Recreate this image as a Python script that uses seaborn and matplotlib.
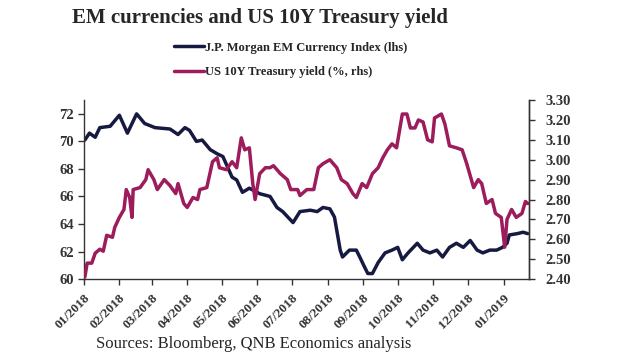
import matplotlib
matplotlib.use("Agg")
import matplotlib.pyplot as plt
import pandas as pd
import seaborn as sns

# J.P. Morgan EM Currency Index (lhs)
em_dates = ["2018-01-02", "2018-01-06", "2018-01-11", "2018-01-15", "2018-01-24", "2018-02-01",
            "2018-02-08", "2018-02-16", "2018-02-23", "2018-03-04", "2018-03-17", "2018-03-24",
            "2018-03-30", "2018-04-03", "2018-04-09", "2018-04-14", "2018-04-21", "2018-04-27",
            "2018-05-02", "2018-05-10", "2018-05-14", "2018-05-19", "2018-05-25", "2018-06-03",
            "2018-06-12", "2018-06-18", "2018-06-23", "2018-07-02", "2018-07-08", "2018-07-17",
            "2018-07-23", "2018-07-28", "2018-08-03", "2018-08-07", "2018-08-12", "2018-08-14",
            "2018-08-20", "2018-08-26", "2018-08-29", "2018-09-02", "2018-09-05", "2018-09-09",
            "2018-09-14", "2018-09-20", "2018-09-26", "2018-10-01", "2018-10-05", "2018-10-10",
            "2018-10-18", "2018-10-23", "2018-10-29", "2018-11-04", "2018-11-09", "2018-11-15",
            "2018-11-21", "2018-11-27", "2018-12-03", "2018-12-09", "2018-12-14", "2018-12-20",
            "2018-12-26", "2018-12-31", "2019-01-04", "2019-01-06", "2019-01-13", "2019-01-18",
            "2019-01-22"]
em_values = [70.1, 70.6, 70.3, 71.0, 71.1, 71.9,
             70.6, 72.0, 71.3, 71.0, 70.9, 70.5,
             71.0, 70.8, 70.0, 70.1, 69.4, 69.1,
             68.9, 67.4, 67.2, 66.3, 66.6, 66.2,
             66.0, 65.2, 64.9, 64.1, 64.9, 65.0,
             64.9, 65.2, 65.1, 64.5, 62.1, 61.6,
             62.1, 62.1, 61.6, 60.9, 60.4, 60.4,
             61.2, 61.9, 62.1, 62.3, 61.4, 61.9,
             62.6, 62.1, 61.9, 62.1, 61.6, 62.3,
             62.6, 62.3, 62.8, 62.1, 61.9, 62.1,
             62.1, 62.3, 62.6, 63.2, 63.3, 63.4,
             63.3]

# US 10Y Treasury yield (%, rhs)
ust_dates = ["2018-01-02", "2018-01-04", "2018-01-08", "2018-01-11", "2018-01-15", "2018-01-18",
             "2018-01-21", "2018-01-26", "2018-01-28", "2018-02-01", "2018-02-05", "2018-02-07",
             "2018-02-10", "2018-02-12", "2018-02-13", "2018-02-19", "2018-02-24", "2018-02-26",
             "2018-03-03", "2018-03-06", "2018-03-12", "2018-03-17", "2018-03-22", "2018-03-24",
             "2018-03-29", "2018-04-01", "2018-04-06", "2018-04-10", "2018-04-12", "2018-04-18",
             "2018-04-23", "2018-04-27", "2018-04-29", "2018-05-05", "2018-05-10", "2018-05-14",
             "2018-05-18", "2018-05-21", "2018-05-25", "2018-05-28", "2018-05-30", "2018-06-03",
             "2018-06-08", "2018-06-12", "2018-06-15", "2018-06-21", "2018-06-27", "2018-06-30",
             "2018-07-06", "2018-07-08", "2018-07-14", "2018-07-20", "2018-07-24", "2018-07-28",
             "2018-08-03", "2018-08-09", "2018-08-13", "2018-08-18", "2018-08-23", "2018-08-26",
             "2018-08-31", "2018-09-04", "2018-09-09", "2018-09-14", "2018-09-18", "2018-09-22",
             "2018-09-26", "2018-09-30", "2018-10-05", "2018-10-09", "2018-10-12", "2018-10-16",
             "2018-10-19", "2018-10-23", "2018-10-27", "2018-10-31", "2018-11-02", "2018-11-08",
             "2018-11-11", "2018-11-15", "2018-11-21", "2018-11-26", "2018-11-30", "2018-12-06",
             "2018-12-10", "2018-12-13", "2018-12-17", "2018-12-22", "2018-12-25", "2018-12-30",
             "2018-12-31", "2019-01-02", "2019-01-04", "2019-01-08", "2019-01-12", "2019-01-17",
             "2019-01-20", "2019-01-22"]
ust_values = [2.41, 2.48, 2.48, 2.53, 2.55, 2.54,
              2.62, 2.61, 2.66, 2.71, 2.75, 2.85,
              2.81, 2.71, 2.85, 2.86, 2.90, 2.95,
              2.90, 2.85, 2.90, 2.87, 2.83, 2.88,
              2.78, 2.76, 2.81, 2.80, 2.85, 2.86,
              2.99, 3.01, 2.96, 2.95, 2.99, 2.96,
              3.11, 3.05, 3.06, 2.88, 2.80, 2.93,
              2.96, 2.96, 2.97, 2.93, 2.90, 2.85,
              2.85, 2.82, 2.85, 2.85, 2.96, 2.98,
              3.00, 2.96, 2.90, 2.88, 2.83, 2.81,
              2.88, 2.86, 2.93, 2.96, 3.01, 3.05,
              3.08, 3.06, 3.23, 3.23, 3.16, 3.16,
              3.20, 3.19, 3.10, 3.09, 3.21, 3.23,
              3.18, 3.07, 3.06, 3.05, 2.98, 2.86,
              2.90, 2.88, 2.78, 2.80, 2.73, 2.71,
              2.66, 2.56, 2.70, 2.75, 2.71, 2.73,
              2.79, 2.78]

title = "EM currencies and US 10Y Treasury yield"
em_label = "J.P. Morgan EM Currency Index (lhs)"
ust_label = "US 10Y Treasury yield (%, rhs)"
source = "Sources: Bloomberg, QNB Economics analysis"
left_ticks = [60, 62, 64, 66, 68, 70, 72]
right_ticks = [2.40, 2.50, 2.60, 2.70, 2.80, 2.90, 3.00, 3.10, 3.20, 3.30]
month_ticks = pd.date_range("2018-01-01", "2019-01-01", freq="MS")

em_df = pd.DataFrame({"date": pd.to_datetime(em_dates), "value": em_values})
ust_df = pd.DataFrame({"date": pd.to_datetime(ust_dates), "value": ust_values})

sns.set_style("ticks")
plt.rcParams["font.family"] = ["Liberation Serif", "DejaVu Serif"]

NAVY = "#161a40"
PLUM = "#9c1c5c"

fig = plt.figure(figsize=(6.2, 3.55), dpi=100)
ax = fig.add_axes([0.135, 0.214, 0.718, 0.504])
ax2 = ax.twinx()

sns.lineplot(data=em_df, x="date", y="value", ax=ax, color=NAVY, lw=2.5, label=em_label, legend=False)
sns.lineplot(data=ust_df, x="date", y="value", ax=ax2, color=PLUM, lw=2.5, label=ust_label, legend=False)

ax.set_ylim(60, 73)
ax2.set_ylim(2.40, 3.30)
ax.set_xlim(pd.Timestamp("2018-01-01"), pd.Timestamp("2019-01-23"))
ax.set_yticks(left_ticks)
ax.set_yticklabels([str(t) for t in left_ticks], fontsize=10.5, fontweight="bold")
ax2.set_yticks(right_ticks)
ax2.set_yticklabels([f"{t:.2f}" for t in right_ticks], fontsize=10.5, fontweight="bold")
ax.set_xticks(month_ticks)
ax.set_xticklabels([d.strftime("%m/%Y") for d in month_ticks], rotation=45, ha="right",
                   rotation_mode="anchor", fontsize=9.5, fontweight="bold")
ax.set_xlabel("")
ax.set_ylabel("")
ax2.set_ylabel("")

for a in (ax, ax2):
    a.spines["top"].set_visible(False)
    for s in a.spines.values():
        s.set_color("#333333")
        s.set_linewidth(1.0)
    a.tick_params(length=4, width=1.0, colors="#333333", pad=3)
ax.tick_params(axis="x", pad=5)
ax2.spines["left"].set_visible(False)
ax2.spines["bottom"].set_visible(False)
ax.spines["right"].set_visible(True)
ax2.tick_params(axis="y", pad=8)

h1, l1 = ax.get_legend_handles_labels()
h2, l2 = ax2.get_legend_handles_labels()
fig.legend(h1 + h2, l1 + l2, loc="upper left", bbox_to_anchor=(0.27, 0.90), frameon=False,
           prop={"weight": "bold", "size": 9}, handlelength=2.4, handletextpad=0.1,
           labelspacing=1.0, borderpad=0)

fig.text(0.42, 0.95, title, ha="center", va="center", fontsize=15, fontweight="bold")
fig.text(0.155, 0.03, source, ha="left", va="center", fontsize=12)

fig.savefig("out.png", dpi=100)
